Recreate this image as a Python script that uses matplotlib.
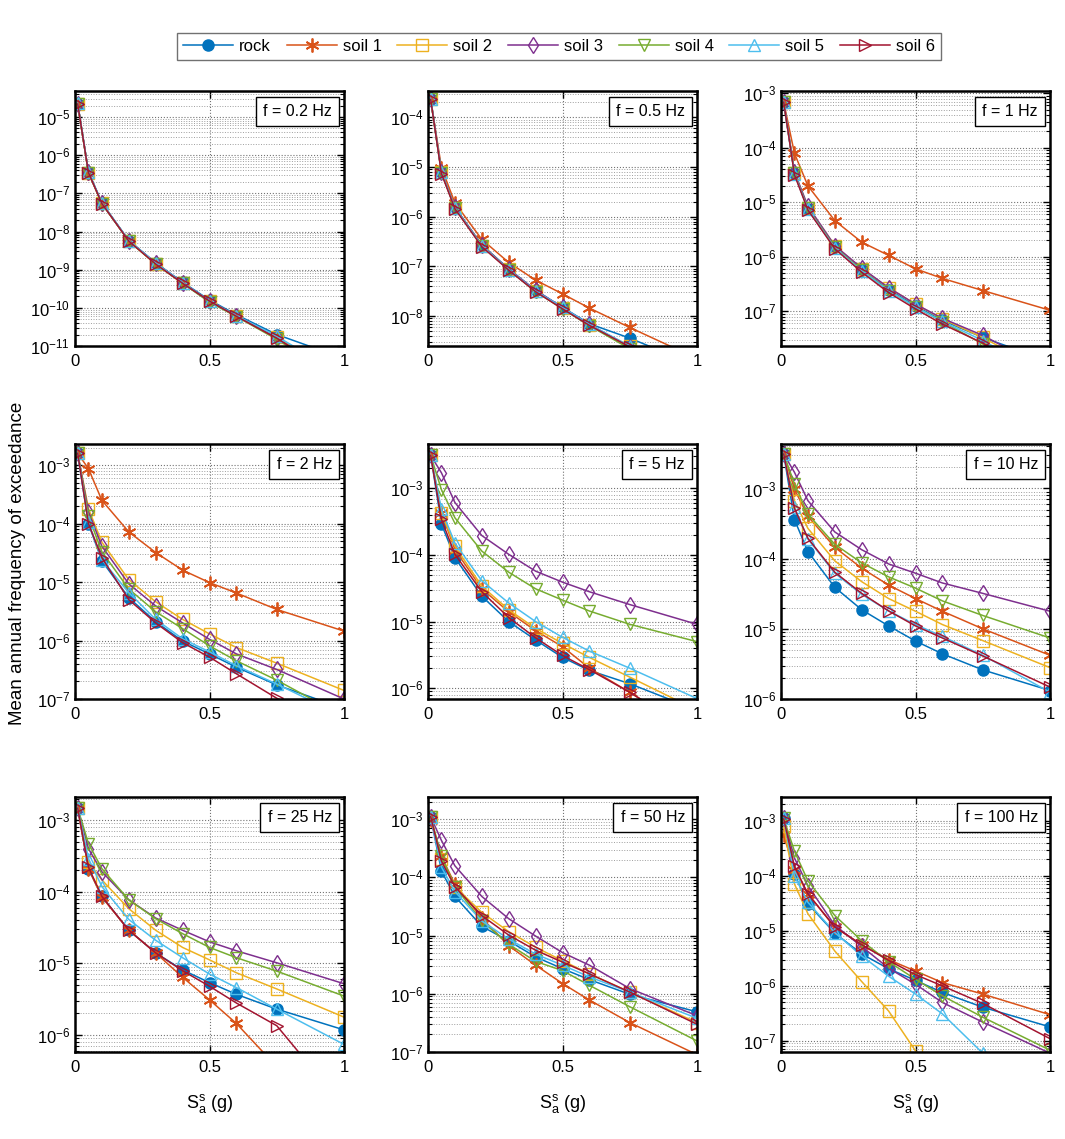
import numpy as np
import matplotlib.pyplot as plt
from matplotlib.ticker import LogLocator, NullFormatter

plt.rcParams['font.family'] = ['Liberation Sans', 'DejaVu Sans']
plt.rcParams['mathtext.fontset'] = 'custom'
plt.rcParams['mathtext.rm'] = 'Liberation Sans'
plt.rcParams['mathtext.it'] = 'Liberation Sans:italic'

# spectral acceleration (g)
sa = [0.01, 0.05, 0.1, 0.2, 0.3, 0.4, 0.5, 0.6, 0.75, 1.0]

names = ['rock', 'soil 1', 'soil 2', 'soil 3', 'soil 4', 'soil 5', 'soil 6']
freqs = ['0.2', '0.5', '1', '2', '5', '10', '25', '50', '100']

# each panel: rock, soil1 ... soil6
f_0p2 = [
    [2.2e-5, 3.6e-7, 5.6e-8, 5.8e-9, 1.5e-9, 4.7e-10, 1.6e-10, 6.6e-11, 2.0e-11, 4.7e-12],
    [2.2e-5, 3.5e-7, 5.4e-8, 5.7e-9, 1.5e-9, 4.5e-10, 1.5e-10, 6.2e-11, 1.7e-11, 1.5e-12],
    [2.2e-5, 3.5e-7, 5.5e-8, 5.6e-9, 1.4e-9, 4.4e-10, 1.5e-10, 6.0e-11, 1.7e-11, 1.3e-12],
    [2.2e-5, 3.6e-7, 5.5e-8, 5.7e-9, 1.5e-9, 4.5e-10, 1.5e-10, 6.1e-11, 1.6e-11, 1.2e-12],
    [2.2e-5, 3.5e-7, 5.4e-8, 5.6e-9, 1.4e-9, 4.4e-10, 1.4e-10, 5.9e-11, 1.5e-11, 1.1e-12],
    [2.3e-5, 3.7e-7, 5.6e-8, 5.8e-9, 1.5e-9, 4.6e-10, 1.5e-10, 6.2e-11, 1.8e-11, 1.6e-12],
    [2.2e-5, 3.5e-7, 5.4e-8, 5.6e-9, 1.4e-9, 4.4e-10, 1.5e-10, 6.0e-11, 1.6e-11, 1.2e-12],
]
f_0p5 = [
    [2.3e-4, 7.9e-6, 1.55e-6, 2.7e-7, 8.9e-8, 3.3e-8, 1.5e-8, 7.0e-9, 3.6e-9, 1.0e-9],
    [2.3e-4, 9.8e-6, 1.9e-6, 3.5e-7, 1.2e-7, 5.3e-8, 2.8e-8, 1.45e-8, 5.9e-9, 1.4e-9],
    [2.3e-4, 7.8e-6, 1.5e-6, 2.6e-7, 8.7e-8, 3.2e-8, 1.45e-8, 6.6e-9, 2.5e-9, 5e-10],
    [2.3e-4, 7.9e-6, 1.55e-6, 2.7e-7, 8.8e-8, 3.3e-8, 1.5e-8, 6.8e-9, 2.4e-9, 5e-10],
    [2.3e-4, 7.6e-6, 1.5e-6, 2.6e-7, 8.5e-8, 3.1e-8, 1.4e-8, 6.4e-9, 2.2e-9, 4e-10],
    [2.4e-4, 7.8e-6, 1.5e-6, 2.6e-7, 8.6e-8, 3.2e-8, 1.5e-8, 6.8e-9, 2.5e-9, 5e-10],
    [2.3e-4, 7.4e-6, 1.45e-6, 2.5e-7, 8.4e-8, 3.1e-8, 1.4e-8, 6.5e-9, 2.4e-9, 5e-10],
]
f_1 = [
    [6.9e-4, 3.4e-5, 7.6e-6, 1.5e-6, 5.7e-7, 2.5e-7, 1.25e-7, 6.8e-8, 3.3e-8, 1.2e-8],
    [6.9e-4, 7.9e-5, 2.0e-5, 4.6e-6, 1.85e-6, 1.06e-6, 6.0e-7, 4.0e-7, 2.4e-7, 1.04e-7],
    [6.9e-4, 3.5e-5, 8.0e-6, 1.6e-6, 6.0e-7, 2.7e-7, 1.35e-7, 7.2e-8, 3.3e-8, 7e-9],
    [6.9e-4, 3.6e-5, 8.5e-6, 1.6e-6, 6.2e-7, 2.7e-7, 1.35e-7, 7.4e-8, 3.6e-8, 8e-9],
    [6.9e-4, 3.4e-5, 7.7e-6, 1.5e-6, 5.6e-7, 2.4e-7, 1.2e-7, 6.4e-8, 2.5e-8, 5e-9],
    [7.0e-4, 3.3e-5, 7.4e-6, 1.45e-6, 5.5e-7, 2.4e-7, 1.2e-7, 6.5e-8, 2.9e-8, 6e-9],
    [6.9e-4, 3.2e-5, 7.2e-6, 1.4e-6, 5.2e-7, 2.2e-7, 1.1e-7, 5.8e-8, 2.6e-8, 5e-9],
]
f_2 = [
    [1.6e-3, 1.0e-4, 2.3e-5, 5.4e-6, 2.1e-6, 9.8e-7, 5.9e-7, 3.5e-7, 1.74e-7, 6.8e-8],
    [1.6e-3, 8.7e-4, 2.5e-4, 7.2e-5, 3.2e-5, 1.6e-5, 9.8e-6, 6.5e-6, 3.4e-6, 1.45e-6],
    [1.6e-3, 1.8e-4, 4.8e-5, 1.1e-5, 4.6e-6, 2.3e-6, 1.3e-6, 7.6e-7, 4.1e-7, 1.4e-7],
    [1.6e-3, 1.6e-4, 4.1e-5, 9.3e-6, 3.9e-6, 2.0e-6, 1.05e-6, 5.9e-7, 3.2e-7, 1.0e-7],
    [1.6e-3, 1.35e-4, 3.3e-5, 7.6e-6, 3.1e-6, 1.6e-6, 8.1e-7, 4.5e-7, 2.1e-7, 5.0e-8],
    [1.6e-3, 1.05e-4, 2.4e-5, 6.6e-6, 2.3e-6, 1.07e-6, 6.4e-7, 3.7e-7, 1.8e-7, 5.0e-8],
    [1.6e-3, 1.0e-4, 2.6e-5, 5.0e-6, 2.0e-6, 9.2e-7, 5.2e-7, 2.7e-7, 1.03e-7, 3.0e-8],
]
f_5 = [
    [3.1e-3, 2.9e-4, 9.1e-5, 2.4e-5, 1.0e-5, 5.3e-6, 2.9e-6, 1.85e-6, 1.17e-6, 4.7e-7],
    [3.1e-3, 4.3e-4, 1.2e-4, 3.1e-5, 1.4e-5, 7.3e-6, 4.2e-6, 2.0e-6, 8.7e-7, 2.0e-7],
    [3.1e-3, 4.3e-4, 1.35e-4, 3.4e-5, 1.5e-5, 7.9e-6, 4.7e-6, 2.9e-6, 1.47e-6, 4.7e-7],
    [3.1e-3, 1.7e-3, 6.1e-4, 1.95e-4, 1.02e-4, 5.7e-5, 3.9e-5, 2.8e-5, 1.8e-5, 9.1e-6],
    [3.1e-3, 9.5e-4, 3.6e-4, 1.14e-4, 5.5e-5, 3.1e-5, 2.1e-5, 1.44e-5, 9.1e-6, 5.0e-6],
    [3.1e-3, 4.8e-4, 1.5e-4, 4.1e-5, 1.9e-5, 1.0e-5, 5.8e-6, 3.6e-6, 2.0e-6, 7.0e-7],
    [3.1e-3, 3.4e-4, 1.02e-4, 2.8e-5, 1.15e-5, 5.7e-6, 3.1e-6, 1.9e-6, 8.7e-7, 2.0e-7],
]
f_10 = [
    [3.1e-3, 3.6e-4, 1.26e-4, 3.9e-5, 1.87e-5, 1.1e-5, 6.7e-6, 4.4e-6, 2.6e-6, 1.32e-6],
    [3.1e-3, 9.8e-4, 4.0e-4, 1.45e-4, 7.3e-5, 4.2e-5, 2.7e-5, 1.78e-5, 1.0e-5, 4.2e-6],
    [3.1e-3, 6.7e-4, 2.7e-4, 9.3e-5, 4.7e-5, 2.7e-5, 1.78e-5, 1.15e-5, 6.8e-6, 2.8e-6],
    [3.1e-3, 1.7e-3, 6.7e-4, 2.4e-4, 1.34e-4, 8.4e-5, 6.2e-5, 4.5e-5, 3.2e-5, 1.78e-5],
    [3.1e-3, 1.16e-3, 4.3e-4, 1.6e-4, 8.7e-5, 5.5e-5, 3.8e-5, 2.5e-5, 1.55e-5, 7.4e-6],
    [3.1e-3, 5.4e-4, 1.9e-4, 6.2e-5, 3.1e-5, 1.8e-5, 1.15e-5, 7.8e-6, 4.2e-6, 1.25e-6],
    [3.1e-3, 5.2e-4, 1.95e-4, 6.4e-5, 3.2e-5, 1.8e-5, 1.1e-5, 7.4e-6, 4.1e-6, 1.48e-6],
]
f_25 = [
    [1.47e-3, 2.1e-4, 8.6e-5, 2.9e-5, 1.4e-5, 8.1e-6, 5.4e-6, 3.7e-6, 2.3e-6, 1.18e-6],
    [1.47e-3, 2.1e-4, 8.4e-5, 2.9e-5, 1.4e-5, 6.4e-6, 3.1e-6, 1.45e-6, 3.6e-7, 3.6e-8],
    [1.47e-3, 2.6e-4, 1.46e-4, 5.8e-5, 2.9e-5, 1.67e-5, 1.12e-5, 7.4e-6, 4.4e-6, 1.78e-6],
    [1.47e-3, 4.0e-4, 1.9e-4, 7.7e-5, 4.3e-5, 2.9e-5, 2.0e-5, 1.5e-5, 1.02e-5, 5.2e-6],
    [1.47e-3, 4.7e-4, 2.1e-4, 7.7e-5, 4.2e-5, 2.6e-5, 1.67e-5, 1.2e-5, 7.8e-6, 3.5e-6],
    [1.47e-3, 2.9e-4, 1.18e-4, 4.1e-5, 2.1e-5, 1.2e-5, 7.1e-6, 4.6e-6, 2.3e-6, 7.4e-7],
    [1.47e-3, 2.2e-4, 8.6e-5, 2.9e-5, 1.4e-5, 7.9e-6, 4.8e-6, 2.8e-6, 1.35e-6, 1.0e-7],
]
f_50 = [
    [1.1e-3, 1.28e-4, 4.7e-5, 1.44e-5, 8.1e-6, 4.3e-6, 2.7e-6, 1.75e-6, 9.8e-7, 4.9e-7],
    [9.5e-4, 2.3e-4, 7.6e-5, 2.0e-5, 6.7e-6, 3.1e-6, 1.5e-6, 7.8e-7, 3.2e-7, 9.0e-8],
    [1.1e-3, 2.1e-4, 6.9e-5, 2.5e-5, 1.17e-5, 6.3e-6, 3.7e-6, 2.2e-6, 1.07e-6, 3.2e-7],
    [1.1e-3, 4.3e-4, 1.58e-4, 4.7e-5, 1.95e-5, 9.8e-6, 5.1e-6, 3.1e-6, 1.23e-6, 4.2e-7],
    [1.1e-3, 2.3e-4, 6.9e-5, 1.78e-5, 7.1e-6, 3.6e-6, 2.5e-6, 1.4e-6, 6.0e-7, 1.55e-7],
    [1.1e-3, 1.5e-4, 5.7e-5, 1.78e-5, 8.7e-6, 4.8e-6, 3.1e-6, 1.95e-6, 1.07e-6, 3.8e-7],
    [1.1e-3, 1.9e-4, 6.9e-5, 2.2e-5, 1.02e-5, 5.6e-6, 3.5e-6, 2.2e-6, 1.07e-6, 3.0e-7],
]
f_100 = [
    [1.12e-3, 1.07e-4, 3.1e-5, 9.1e-6, 3.8e-6, 2.05e-6, 1.26e-6, 7.6e-7, 4.1e-7, 1.8e-7],
    [5.4e-4, 1.3e-4, 4.7e-5, 1.17e-5, 5.6e-6, 3.0e-6, 1.86e-6, 1.15e-6, 7.1e-7, 3.0e-7],
    [7.9e-4, 7.1e-5, 2.05e-5, 4.3e-6, 1.2e-6, 3.5e-7, 6.6e-8, 1.3e-8, 1.0e-9, 1.6e-11],
    [1.1e-3, 2.1e-4, 6.6e-5, 1.26e-5, 5.2e-6, 2.1e-6, 1.07e-6, 5.0e-7, 2.2e-7, 6.0e-8],
    [1.1e-3, 2.8e-4, 8.1e-5, 1.9e-5, 6.6e-6, 2.75e-6, 1.32e-6, 6.6e-7, 2.7e-7, 6.8e-8],
    [1.1e-3, 1.0e-4, 3.3e-5, 9.3e-6, 3.5e-6, 1.5e-6, 7.1e-7, 3.1e-7, 6.0e-8, 4.0e-9],
    [1.08e-3, 1.48e-4, 4.7e-5, 1.17e-5, 5.6e-6, 2.9e-6, 1.6e-6, 1.0e-6, 4.8e-7, 1.1e-7],
]

panels = [f_0p2, f_0p5, f_1, f_2, f_5, f_10, f_25, f_50, f_100]
ylims = [(1e-11, 4.8e-5), (2.5e-9, 3.4e-4), (2.3e-8, 1.1e-3),
         (1e-7, 2.3e-3), (6.9e-7, 4.6e-3), (1e-6, 4.3e-3),
         (5.8e-7, 2.1e-3), (1e-7, 2.4e-3), (6.3e-8, 2.7e-3)]

colors = ['#0072BD', '#D95319', '#EDB120', '#7E2F8E', '#77AC30', '#4DBEEE', '#A2142F']
markers = ['o', (6, 2, 0), 's', 'd', 'v', '^', '>']
msizes = [8, 10, 8, 8, 8, 8, 8]

fig = plt.figure(figsize=(10.65, 11.39), dpi=100)
W, H = 1065., 1139.
lefts = [75, 428, 781]
tops = [91, 444, 797]
aw, ah = 269, 255

lines = []
for k, data in enumerate(panels):
    r, c = divmod(k, 3)
    ax = fig.add_axes([lefts[c] / W, 1 - (tops[r] + ah) / H, aw / W, ah / H])
    for i in range(7):
        fill = colors[i] if i == 0 else 'none'
        ln, = ax.semilogy(sa, data[i], color=colors[i], lw=1.1, marker=markers[i],
                          ms=msizes[i], mfc=fill, mec=colors[i],
                          mew=1.3 if i == 1 else 1.0, label=names[i])
        if k == 0:
            lines.append(ln)
    ax.set_xlim(0, 1)
    ax.set_ylim(*ylims[k])
    ax.set_xticks([0, 0.5, 1])
    ax.set_xticklabels(['0', '0.5', '1'])
    ax.yaxis.set_major_locator(LogLocator(base=10, numticks=30))
    ax.yaxis.set_minor_locator(LogLocator(base=10, subs=np.arange(2, 10), numticks=100))
    ax.yaxis.set_minor_formatter(NullFormatter())
    ax.grid(True, which='major', color='0.45', linestyle=':', lw=0.8)
    ax.grid(True, which='minor', axis='y', color='0.62', linestyle=':', lw=0.7)
    ax.tick_params(which='both', direction='in', top=True, right=True, labelsize=12)
    ax.tick_params(which='major', length=5, width=1)
    ax.tick_params(which='minor', length=3, width=0.8)
    ax.tick_params(axis='x', pad=6)
    for s in ax.spines.values():
        s.set_linewidth(1.8)
    ax.text(0.955, 0.95, 'f = %s Hz' % freqs[k], transform=ax.transAxes,
            ha='right', va='top', fontsize=11.5,
            bbox=dict(boxstyle='square,pad=0.45', fc='white', ec='black', lw=1.0))
    if r == 2:
        ax.set_xlabel(r'$\mathrm{S}_\mathrm{a}^\mathrm{s}$ (g)', fontsize=13, labelpad=12)

fig.legend(handles=lines, loc='upper center', bbox_to_anchor=(0.525, 0.978), ncol=7,
           fontsize=12, frameon=True, fancybox=False, edgecolor='0.3',
           handlelength=3.0, handletextpad=0.35, columnspacing=0.95, borderpad=0.35)

fig.text(0.016, 0.505, 'Mean annual frequency of exceedance', rotation=90,
         ha='center', va='center', fontsize=13.5)

fig.savefig('out.png', dpi=100)
